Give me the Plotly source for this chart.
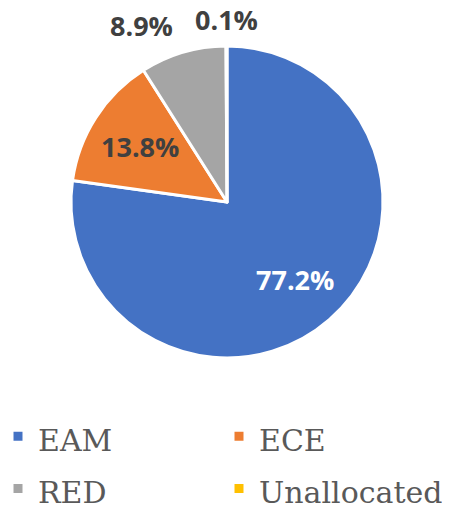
import math
import plotly.graph_objects as go

labels = ["EAM", "ECE", "RED", "Unallocated"]
values = [77.2, 13.8, 8.9, 0.1]
colors = ["#4472C4", "#ED7D31", "#A5A5A5", "#FFC000"]
label_colors = ["#FFFFFF", "#404040", "#404040", "#404040"]

W, H = 454, 509
cx, cy, R = 227, 202, 156  # pie centre / radius in pixels

# label placement: (xanchor, radius as fraction of R)
label_place = [("center", 0.66), ("center", 0.66), ("right", 1.18), ("center", 1.17)]

# legend text sized via span so the (larger) legend font sets the row height
legend_labels = [f"<span style='font-size:30px'>{l}</span>" for l in labels]

fig = go.Figure(go.Pie(
    labels=legend_labels,
    values=values,
    customdata=labels,
    hovertemplate="%{customdata}: %{percent}<extra></extra>",
    sort=False,
    direction="clockwise",
    rotation=0,
    marker=dict(colors=colors, line=dict(color="#FFFFFF", width=3)),
    textinfo="none",
    domain=dict(x=[0, 1], y=[1 - (cy + R) / H, 1 - (cy - R) / H]),
))

# data labels, placed along each slice's mid-angle
total = sum(values)
cum = 0
for v, col, (xa, f) in zip(values, label_colors, label_place):
    mid = (cum + v / 2) / total * 2 * math.pi
    cum += v
    rr = R * f
    px = cx + rr * math.sin(mid)
    py = cy - rr * math.cos(mid)
    fig.add_annotation(
        x=px / W, y=1 - py / H, xref="paper", yref="paper",
        text=f"{v:.1f}%", showarrow=False, xanchor=xa, yanchor="middle",
        font=dict(family="Open Sans", size=27, color=col, weight="bold"),
    )

fig.update_layout(
    width=W, height=H,
    margin=dict(l=0, r=0, t=0, b=0, autoexpand=False),
    paper_bgcolor="white",
    showlegend=True,
    legend=dict(
        orientation="h",
        x=0, xanchor="left",
        y=1 - 405 / H, yanchor="top",
        indentation=-2,
        entrywidth=178, entrywidthmode="pixels",
        font=dict(family="DejaVu Serif", size=38, color="#595959"),
    ),
)

fig.write_html(
    "out.html",
    config={"displayModeBar": False},
    post_script="document.body.style.margin='0';",
)
